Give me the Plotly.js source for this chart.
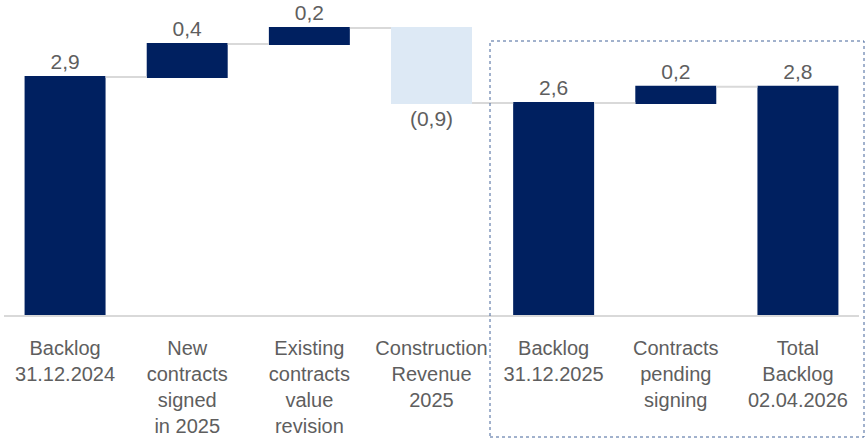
<!DOCTYPE html>
<html>
<head>
<meta charset="utf-8">
<script src="https://cdn.plot.ly/plotly-3.0.1.min.js"></script>
<style>html,body{margin:0;padding:0;background:#fff;}#chart{width:865px;height:438px;}</style>
</head>
<body>
<div id="chart"></div>
<script>
// Categories (x-axis labels)
var categories = [
  "Backlog<br>31.12.2024",
  "New<br>contracts<br>signed<br>in 2025",
  "Existing<br>contracts<br>value<br>revision",
  "Construction<br>Revenue<br>2025",
  "Backlog<br>31.12.2025",
  "Contracts<br>pending<br>signing",
  "Total<br>Backlog<br>02.04.2026"
];
// Step values (EUR bn), totals are computed by the waterfall
var values = [2.92, 0.405, 0.195, -0.92, 0, 0.2, 0];
var measures = ["absolute", "relative", "relative", "relative", "total", "relative", "total"];

// Running totals for labels
var running = 0;
var labelValues = values.map(function (v, i) {
  if (measures[i] === "absolute") { running = v; return v; }
  if (measures[i] === "total") { return running; }
  running += v; return v;
});
var labels = labelValues.map(function (v) {
  var s = Math.abs(v).toFixed(1).replace(".", ",");
  return v < 0 ? "(" + s + ")" : s;
});

var navy = "#002060";
var lightBlue = "#DDE9F5";
var grey = "#5E5E5E";
var fontFam = "Liberation Sans, Arial, sans-serif";

var trace = {
  type: "waterfall",
  x: categories,
  y: values,
  measure: measures,
  text: labels,
  textinfo: "text",
  textposition: "outside",
  textfont: {family: fontFam, size: 21, color: grey},
  cliponaxis: false,
  increasing: {marker: {color: navy}},
  decreasing: {marker: {color: lightBlue}},
  totals: {marker: {color: navy}},
  connector: {mode: "between", line: {color: "#D9D9D9", width: 2}},
  hoverinfo: "none"
};

var layout = {
  width: 865,
  height: 438,
  margin: {l: 4, r: 6, t: 0, b: 123},
  paper_bgcolor: "#ffffff",
  plot_bgcolor: "#ffffff",
  showlegend: false,
  waterfallgap: 0.337,
  font: {family: fontFam, size: 20, color: grey},
  xaxis: {
    type: "category",
    showline: true,
    linecolor: "#D9D9D9",
    linewidth: 2,
    ticks: "",
    showgrid: false,
    ticklabelstandoff: 14,
    tickfont: {family: fontFam, size: 20, color: grey},
    fixedrange: true
  },
  yaxis: {
    range: [0, 3.865],
    visible: false,
    showgrid: false,
    zeroline: false,
    fixedrange: true
  },
  shapes: [{
    type: "rect",
    xref: "paper",
    yref: "paper",
    x0: (490 - 4) / 855,
    x1: (864 - 4) / 855,
    y0: (315 - 437) / 315,
    y1: (315 - 41) / 315,
    line: {color: "#44649A", width: 1, dash: "dot"},
    fillcolor: "rgba(0,0,0,0)",
    layer: "above"
  }]
};

Plotly.newPlot("chart", [trace], layout, {displayModeBar: false, staticPlot: true});
</script>
</body>
</html>
